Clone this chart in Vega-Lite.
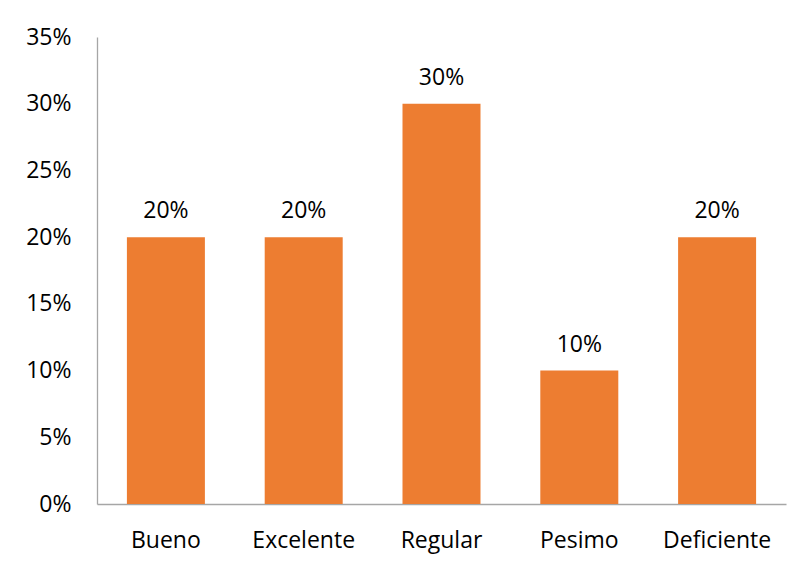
{
  "$schema": "https://vega.github.io/schema/vega-lite/v6.json",
  "width": 689,
  "height": 467,
  "autosize": {"type": "none"},
  "padding": {"left": 97, "top": 37, "right": 17, "bottom": 63},
  "background": "white",
  "config": {
    "view": {"stroke": null},
    "font": "Open Sans",
    "axis": {"grid": false, "ticks": false, "domainColor": "#a6a6a6", "domainWidth": 1.3, "labelColor": "#000000", "labelFont": "Open Sans", "labelFontSize": 23, "title": null}
  },
  "data": {
    "values": [
      {"categoria": "Bueno", "valor": 0.20},
      {"categoria": "Excelente", "valor": 0.20},
      {"categoria": "Regular", "valor": 0.30},
      {"categoria": "Pesimo", "valor": 0.10},
      {"categoria": "Deficiente", "valor": 0.20}
    ]
  },
  "encoding": {
    "x": {
      "field": "categoria", "type": "nominal", "sort": null,
      "scale": {"paddingInner": 0.434, "paddingOuter": 0.217},
      "axis": {"labelAngle": 0, "labelBaseline": "alphabetic", "labelPadding": 43}
    },
    "y": {
      "field": "valor", "type": "quantitative",
      "scale": {"domain": [0, 0.35], "nice": false},
      "axis": {"format": ".0%", "values": [0, 0.05, 0.1, 0.15, 0.2, 0.25, 0.3, 0.35], "labelPadding": 26}
    }
  },
  "layer": [
    {"mark": {"type": "bar", "color": "#ED7D31"}},
    {
      "mark": {"type": "text", "baseline": "alphabetic", "dy": -19, "fontSize": 23, "font": "Open Sans", "color": "#000000"},
      "encoding": {"text": {"field": "valor", "type": "quantitative", "format": ".0%"}}
    }
  ]
}
